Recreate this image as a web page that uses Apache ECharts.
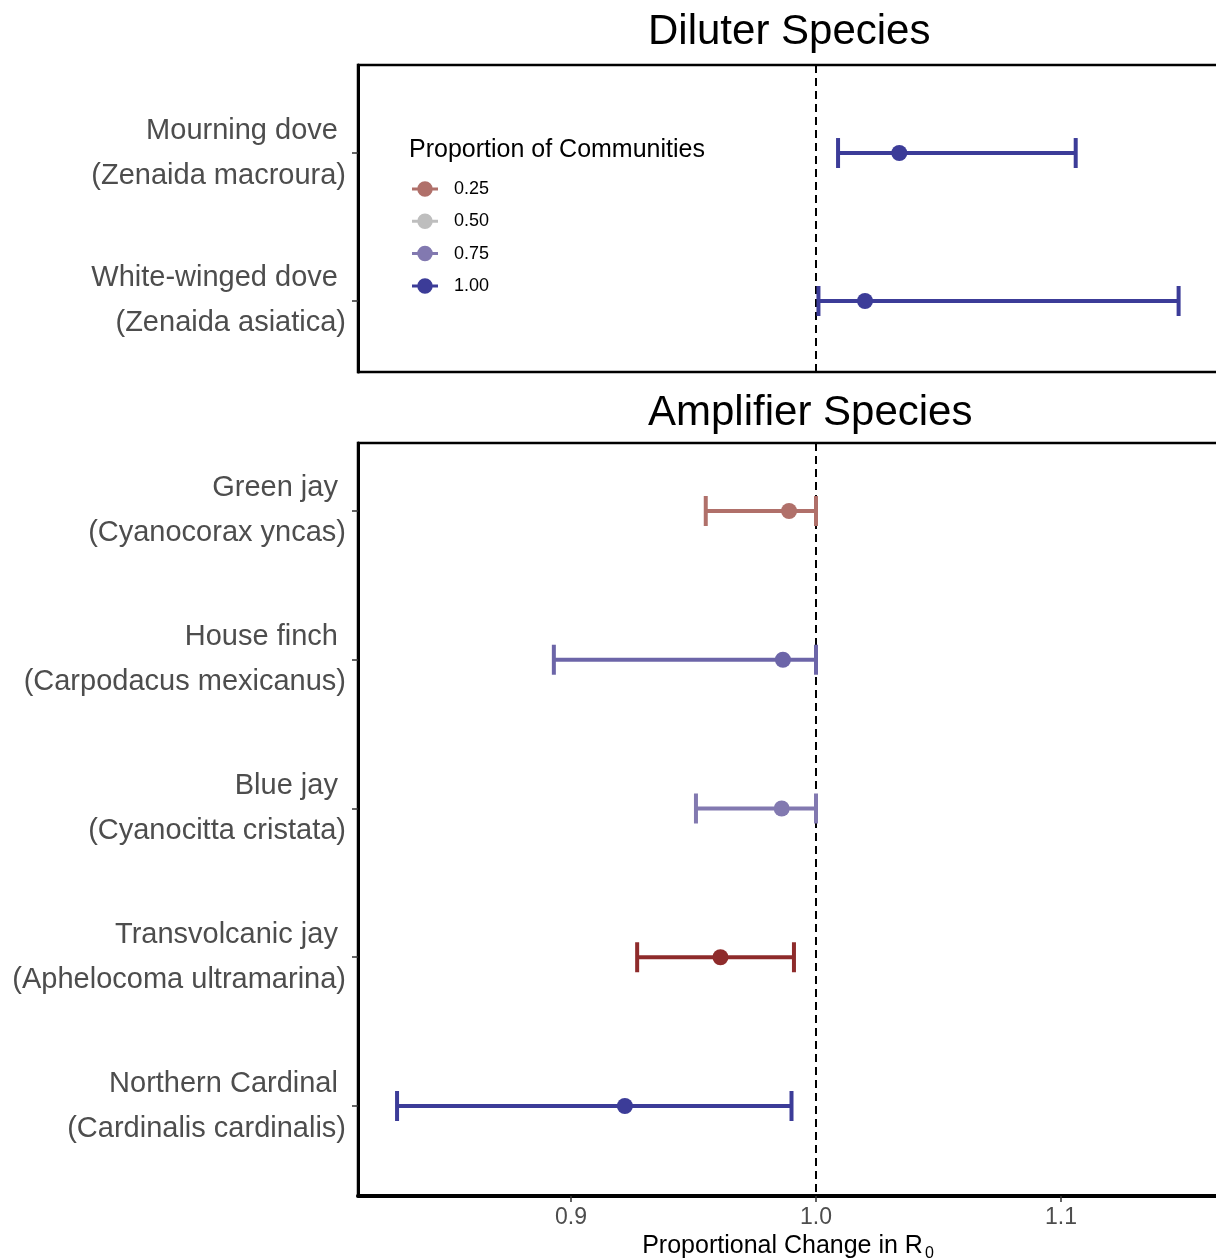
<!DOCTYPE html>
<html>
<head>
<meta charset="utf-8">
<script src="https://cdn.jsdelivr.net/npm/echarts@6/dist/echarts.min.js"></script>
<style>html,body{margin:0;padding:0;background:#fff}#c{width:1216px;height:1260px}</style>
</head>
<body>
<div id="c"></div>
<script>
// ---- data ----
const commonNames = ["Mourning dove", "White-winged dove", "Green jay", "House finch", "Blue jay", "Transvolcanic jay", "Northern Cardinal"];
const latinNames = ["Zenaida macroura", "Zenaida asiatica", "Cyanocorax yncas", "Carpodacus mexicanus", "Cyanocitta cristata", "Aphelocoma ultramarina", "Cardinalis cardinalis"];
const panelOf = ["Diluter", "Diluter", "Amplifier", "Amplifier", "Amplifier", "Amplifier", "Amplifier"];
const estimate = [1.034, 1.020, 0.989, 0.9865, 0.986, 0.961, 0.922];
const lower = [1.009, 1.001, 0.955, 0.893, 0.951, 0.927, 0.829];
const upper = [1.106, 1.148, 1.000, 1.000, 1.000, 0.991, 0.990];
const proportion = [1.00, 1.00, 0.25, 0.83, 0.75, 0.05, 1.00];
const legendLevels = [0.25, 0.50, 0.75, 1.00];
const xTickValues = [0.9, 1.0, 1.1];
const panelTitles = ["Diluter Species", "Amplifier Species"];

// ---- colour scale ----
const colourStops = [[0, [0x86, 0x1a, 0x1b]], [0.25, [0xb0, 0x70, 0x6a]], [0.5, [0xbe, 0xbe, 0xbe]], [0.75, [0x82, 0x79, 0xb0]], [1, [0x3c, 0x3c, 0x98]]];
function colourFor(p) {
  for (let i = 0; i < colourStops.length - 1; i++) {
    const [a, ca] = colourStops[i], [b, cb] = colourStops[i + 1];
    if (p <= b + 1e-9) {
      const t = (p - a) / (b - a);
      const c = ca.map((v, k) => Math.round(v + (cb[k] - v) * t));
      return 'rgb(' + c.join(',') + ')';
    }
  }
  const c = colourStops[colourStops.length - 1][1];
  return 'rgb(' + c.join(',') + ')';
}

const panels = ["Diluter", "Amplifier"];
const panelIdx = panels.map(p => commonNames.map((_, i) => i).filter(i => panelOf[i] === p));

const FONT = "'Liberation Sans', Arial, Helvetica, sans-serif";
const chart = echarts.init(document.getElementById('c'), null, { renderer: 'canvas' });

const X_MIN = 0.81306, X_MAX = 1.16408;
const grids = [
  { left: 358, top: 65, width: 860, height: 307 },
  { left: 358, top: 443, width: 860, height: 753 }
];
const yRanges = [[-0.595, 1.48], [-0.457, 4.605]];

const xAxes = grids.map((g, gi) => ({
  type: 'value', gridIndex: gi, min: X_MIN, max: X_MAX,
  splitLine: { show: false },
  axisLine: { show: gi === 1, onZero: false, lineStyle: { color: '#000', width: 4 } },
  axisTick: { show: gi === 1, customValues: xTickValues, length: 6, lineStyle: { color: '#333', width: 1.5 } },
  axisLabel: { show: gi === 1, customValues: xTickValues, formatter: v => v.toFixed(1), color: '#4D4D4D', fontSize: 23, fontFamily: FONT, margin: 10 },
  name: gi === 1 ? '{a|Proportional Change in R}{s|0}' : '',
  nameLocation: 'middle', nameGap: 33,
  nameTextStyle: { rich: { a: { fontSize: 25, color: '#000', fontFamily: FONT }, s: { fontSize: 16, color: '#000', fontFamily: FONT, padding: [14, 0, 0, 2] } } }
}));

const yAxes = grids.map((g, gi) => ({
  type: 'value', gridIndex: gi, inverse: true, min: yRanges[gi][0], max: yRanges[gi][1],
  splitLine: { show: false },
  axisLine: { show: true, onZero: false, lineStyle: { color: '#000', width: 3 } },
  axisTick: { show: true, customValues: panelIdx[gi].map((_, k) => k), length: 6, lineStyle: { color: '#333', width: 1.5 } },
  axisLabel: {
    show: true, customValues: panelIdx[gi].map((_, k) => k),
    formatter: v => { const i = panelIdx[gi][Math.round(v)]; return commonNames[i] + ' \n(' + latinNames[i] + ')'; },
    color: '#4D4D4D', fontSize: 29, fontFamily: FONT, lineHeight: 45, align: 'right', margin: 12
  }
}));

const series = [];
grids.forEach((g, gi) => {
  const rows = panelIdx[gi].map((i, k) => [lower[i], upper[i], k, estimate[i], proportion[i]]);
  series.push({
    type: 'custom', xAxisIndex: gi, yAxisIndex: gi, z: 3,
    data: rows,
    encode: { x: [0, 1], y: 2 },
    renderItem: (params, api) => {
      const lo = api.coord([api.value(0), api.value(2)]);
      const hi = api.coord([api.value(1), api.value(2)]);
      const col = colourFor(api.value(4));
      const h = 15;
      const st = { stroke: col, lineWidth: 4 };
      return {
        type: 'group', children: [
          { type: 'line', shape: { x1: lo[0], y1: lo[1], x2: hi[0], y2: hi[1] }, style: st },
          { type: 'line', shape: { x1: lo[0], y1: lo[1] - h, x2: lo[0], y2: lo[1] + h }, style: st },
          { type: 'line', shape: { x1: hi[0], y1: hi[1] - h, x2: hi[0], y2: hi[1] + h }, style: st }
        ]
      };
    },
    markLine: {
      silent: true, symbol: 'none', label: { show: false }, z: 2,
      lineStyle: { color: '#000', width: 2, type: [8, 5] },
      data: [{ xAxis: 1.0 }]
    }
  });
  series.push({
    type: 'scatter', xAxisIndex: gi, yAxisIndex: gi, z: 4, symbolSize: 16,
    data: panelIdx[gi].map((i, k) => ({ value: [estimate[i], k], itemStyle: { color: colourFor(proportion[i]), opacity: 1 } }))
  });
});

// legend dummy series
legendLevels.forEach(l => {
  series.push({ type: 'scatter', name: l.toFixed(2), xAxisIndex: 0, yAxisIndex: 0, data: [], itemStyle: { color: colourFor(l), opacity: 1 } });
});

const legendIcon = 'path://M0,6.25 L26,6.25 L26,9.25 L0,9.25 Z M13,0 A7.75,7.75 0 1 1 12.99,0 Z';

chart.setOption({
  animation: false,
  backgroundColor: '#fff',
  grid: grids.map(g => Object.assign({ show: true, borderColor: '#000', borderWidth: 2.5, backgroundColor: 'transparent', containLabel: false, outerBoundsMode: 'none' }, g)),
  xAxis: xAxes,
  yAxis: yAxes,
  title: [
    { text: panelTitles[0], left: 648, top: 11, padding: 0, textStyle: { fontSize: 42, fontWeight: 'normal', color: '#000', fontFamily: FONT } },
    { text: panelTitles[1], left: 648, top: 392, padding: 0, textStyle: { fontSize: 42, fontWeight: 'normal', color: '#000', fontFamily: FONT } },
    { text: 'Proportion of Communities', left: 409, top: 138, padding: 0, textStyle: { fontSize: 25, fontWeight: 'normal', color: '#000', fontFamily: FONT } }
  ],
  legend: {
    orient: 'vertical', left: 412, top: 180, padding: 0, itemWidth: 26, itemHeight: 16, itemGap: 14.3,
    icon: legendIcon,
    data: legendLevels.map(l => l.toFixed(2)),
    textStyle: { fontSize: 18, color: '#000', fontFamily: FONT, padding: [0, 0, 0, 11] },
    itemStyle: { opacity: 1 },
    selectedMode: false
  },
  series: series
});
</script>
</body>
</html>
